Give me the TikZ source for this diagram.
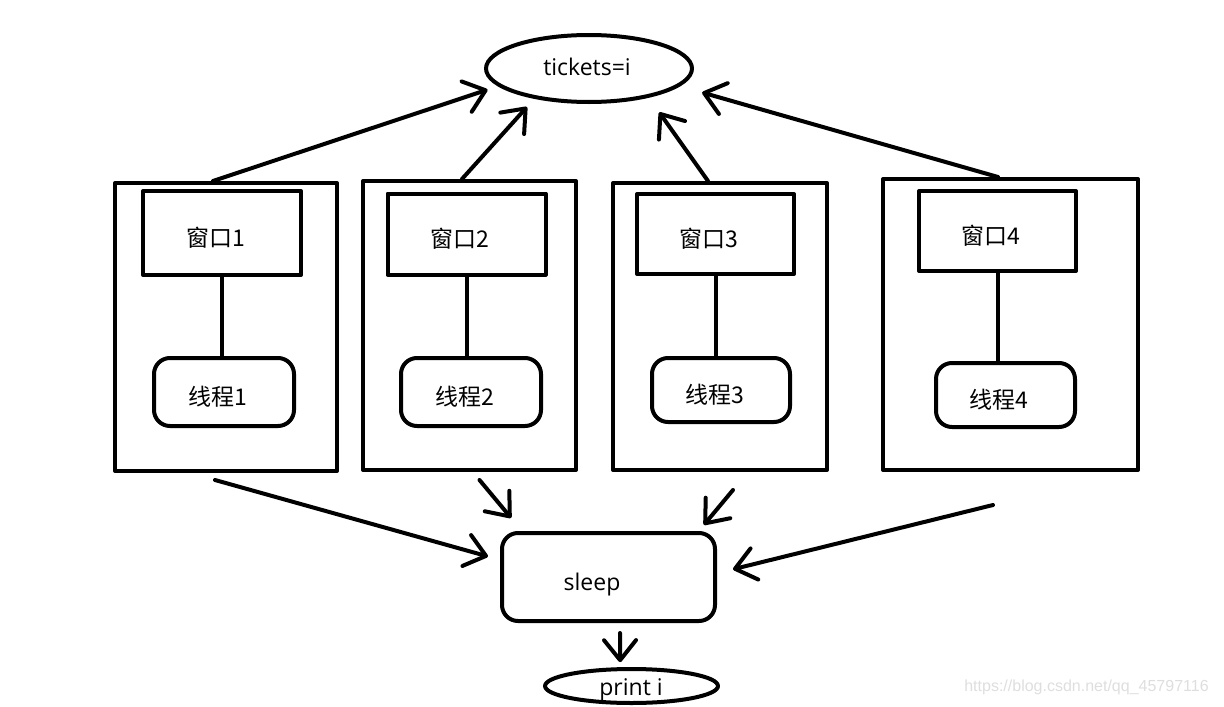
\documentclass[tikz,border=0pt]{standalone}
\usepackage{fontspec}
\setmainfont{Open Sans}
\newfontfamily\cjk{Noto Sans CJK SC}
\newfontfamily\wmfont{Liberation Sans}
\usetikzlibrary{shapes.geometric, arrows.meta}

\begin{document}
\begin{tikzpicture}[x = 1pt, y = -1pt, line width = 4pt, line join = round,
        outerbox/.style = {draw, rectangle, inner sep = 0pt},
        winbox/.style = {draw, rectangle, inner sep = 0pt, text height = 26pt, text depth = 0pt,
                execute at end node = {\hspace*{13pt}}, font = \cjk\fontsize{23}{27}\selectfont},
        thrbox/.style = {winbox, rounded corners = 16pt},
        oval/.style = {draw, ellipse, inner sep = 0pt},
        txt/.style = {inner sep = 0pt, font = \fontsize{23}{27}\selectfont},
        arr/.style = {-{Straight Barb[length = 20pt, width = 32pt, round]}, line cap = round}]
        \useasboundingbox (0, 0) rectangle (1224, 707);
        \node[oval, minimum width = 206pt, minimum height = 67pt] (tickets) at (589, 68.5) {};
        \node[txt] (ticketstxt) at (587, 67) {tickets=i};
        \node[outerbox, minimum width = 222pt, minimum height = 288pt] (box1) at (226, 327) {};
        \node[outerbox, minimum width = 213pt, minimum height = 289pt] (box2) at (469.5, 325.5) {};
        \node[outerbox, minimum width = 214pt, minimum height = 287pt] (box3) at (720, 326.5) {};
        \node[outerbox, minimum width = 255pt, minimum height = 291pt] (box4) at (1010.5, 324.5) {};
        \node[winbox, minimum width = 158pt, minimum height = 84pt] (win1) at (222, 233) {窗口1};
        \node[winbox, minimum width = 158pt, minimum height = 81pt] (win2) at (466.5, 234) {窗口2};
        \node[winbox, minimum width = 157pt, minimum height = 80pt] (win3) at (715.5, 234) {窗口3};
        \node[winbox, minimum width = 157pt, minimum height = 80pt] (win4) at (997.5, 231) {窗口4};
        \node[thrbox, minimum width = 140pt, minimum height = 68pt] (thr1) at (224, 392) {线程1};
        \node[thrbox, minimum width = 140pt, minimum height = 68pt] (thr2) at (471, 392) {线程2};
        \node[thrbox, minimum width = 138pt, minimum height = 64pt] (thr3) at (721, 390) {线程3};
        \node[thrbox, minimum width = 139pt, minimum height = 64pt] (thr4) at (1005.5, 395) {线程4};
        \draw (win1.south) -- (win1.south |- thr1.north);
        \draw (win2.south) -- (win2.south |- thr2.north);
        \draw (win3.south) -- (win3.south |- thr3.north);
        \draw (win4.south) -- (win4.south |- thr4.north);
        \node[outerbox, rounded corners = 16pt, minimum width = 213pt, minimum height = 88pt] (sleep) at (608.5, 577) {};
        \node[txt] (sleeptxt) at (592, 585) {sleep};
        \node[oval, minimum width = 173pt, minimum height = 34pt] (print) at (631.5, 686) {};
        \node[txt] (printtxt) at (631, 690) {print i};
        \node[text = black!13, anchor = east, font = \wmfont\fontsize{16}{18}\selectfont] (mark) at (1214, 687) {https://blog.csdn.net/qq\_45797116};
        % up to tickets
        \draw[arr, shorten > = 11pt] ([xshift = -13pt]box1.north) -- (tickets.191);
        \draw[arr, shorten > = 11pt] ([xshift = -7.5pt]box2.north) -- (tickets.209);
        \draw[arr, shorten > = 18pt] ([xshift = -12pt]box3.north) -- (tickets.334);
        \draw[arr, shorten > = 23pt] ([xshift = -12.5pt]box4.north) -- (tickets.349);
        % down to sleep
        \draw[arr, shorten > = 12.5pt] ([xshift = -11pt, yshift = -7pt]box1.south) -- (sleep.171);
        \draw[arr, shorten > = 17pt] ([xshift = 10pt, yshift = -8pt]box2.south) -- (sleep.152);
        \draw[arr, shorten > = 8pt] ([xshift = 13pt, yshift = -18pt]box3.south) -- (sleep.27);
        \draw[arr, shorten > = 16.5pt] ([xshift = -17.5pt, yshift = -33pt]box4.south) -- (sleep.2);
        \draw[arr, shorten > = 5pt] ([xshift = 11.5pt, yshift = -10pt]sleep.south) -- (print.121);
\end{tikzpicture}
\end{document}
